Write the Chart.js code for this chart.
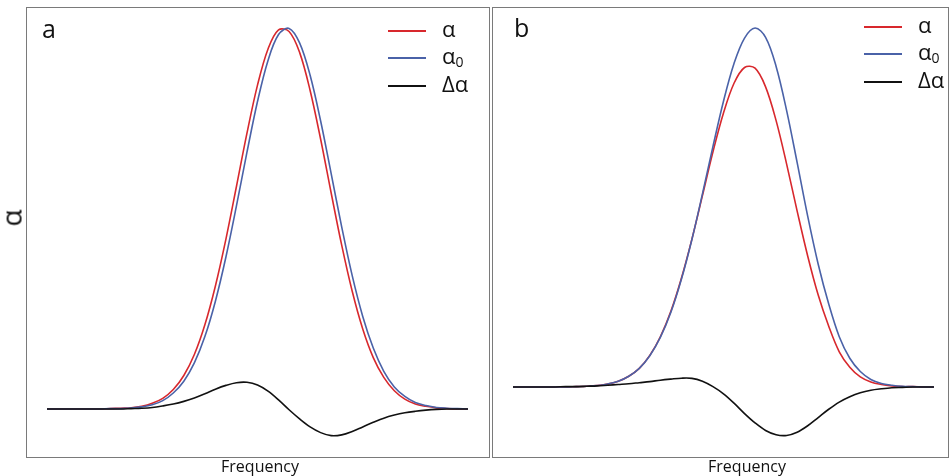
<!DOCTYPE html>
<html>
<head>
<meta charset="utf-8">
<script src="https://cdn.jsdelivr.net/npm/chart.js@4.4.1/dist/chart.umd.min.js"></script>
<style>
  body { margin: 0; width: 949px; height: 476px; background: #fff; position: relative; overflow: hidden;
         font-family: "Open Sans", sans-serif; color: #111; }
  .panel { position: absolute; top: 7px; height: 451px; border: 1px solid #7a7a7a; box-sizing: border-box; }
  #pa { left: 26px; width: 464px; }
  #pb { left: 492px; width: 457px; }
  .panel canvas { position: absolute; left: 0; top: 0; }
  .tag { position: absolute; font-size: 25px; line-height: 1; }
  .xlab { position: absolute; top: 456px; font-size: 16px; line-height: 20px; transform: translateX(-50%); }
  .ylab { position: absolute; left: 2px; top: 204px; font-size: 28px; line-height: 28px; transform: rotate(-90deg); transform-origin: center; }
  .legend { position: absolute; font-size: 22px; }
  .legend .row { position: absolute; left: 0; height: 2px; white-space: nowrap; }
  .legend .sw { position: absolute; left: 0; width: 38px; height: 2px; }
  .legend .tx { position: absolute; top: -16px; line-height: 28px; }
  .legend sub { font-size: 14px; vertical-align: -3px; }
</style>
</head>
<body>
<div class="panel" id="pa"><canvas id="chartA" width="462" height="449"></canvas></div>
<div class="panel" id="pb"><canvas id="chartB" width="455" height="449"></canvas></div>
<div class="tag" style="left:42px;top:16px">a</div>
<div class="tag" style="left:514px;top:15px">b</div>
<div class="ylab">α</div>
<div class="xlab" style="left:260px">Frequency</div>
<div class="xlab" style="left:747px">Frequency</div>
<div class="legend" id="legA" style="left:388px;top:30px"></div>
<div class="legend" id="legB" style="left:864px;top:26px"></div>

<script>
// frequency grid (arbitrary units), shared by both panels
const freq = [0, 2.5, 5, 7.5, 10, 12.5, 15, 17.5, 20, 22.5, 25, 27.5, 30, 32.5, 35, 37.5,
  40, 42.5, 45, 47.5, 50, 52.5, 55, 57.5, 60, 62.5, 65, 67.5, 70, 72.5, 75, 77.5,
  80, 82.5, 85, 87.5, 90, 92.5, 95, 97.5, 100];

const seriesNames = ['α', 'α<sub>0</sub>', 'Δα'];
const seriesColors = ['#d8282d', '#4a62a8', '#111111'];

// panel a: shifted line
const alphaA = [0, 0, 0, 0, 0, 0, 0.001, 0.002, 0.003, 0.007, 0.015, 0.028, 0.051, 0.088, 0.143, 0.221,
  0.323, 0.446, 0.584, 0.724, 0.850, 0.945, 0.995, 0.991, 0.936, 0.836, 0.708, 0.567, 0.430, 0.309, 0.210, 0.135,
  0.083, 0.048, 0.026, 0.013, 0.007, 0.003, 0.001, 0, 0];
const alpha0A = [0, 0, 0, 0, 0, 0, 0.001, 0.001, 0.0025, 0.0055, 0.011, 0.022, 0.042, 0.073, 0.121, 0.190,
  0.283, 0.399, 0.533, 0.674, 0.807, 0.915, 0.983, 0.999, 0.961, 0.876, 0.756, 0.618, 0.478, 0.350, 0.243, 0.160,
  0.099, 0.058, 0.033, 0.017, 0.009, 0.004, 0.002, 0.001, 0];
const deltaA = [0, 0, 0, 0, 0, 0, 0, 0, 0.001, 0.002, 0.004, 0.008, 0.013, 0.020, 0.029, 0.040,
  0.052, 0.062, 0.069, 0.070, 0.063, 0.047, 0.024, -0.002, -0.026, -0.047, -0.062, -0.070, -0.068, -0.059, -0.047, -0.035,
  -0.024, -0.016, -0.010, -0.006, -0.003, -0.001, 0, 0, 0];

// panel b: reduced, asymmetric line
const alphaB = [0, 0, 0, 0, 0, 0, 0.001, 0.002, 0.004, 0.008, 0.016, 0.030, 0.052, 0.088, 0.140, 0.211,
  0.303, 0.412, 0.533, 0.655, 0.763, 0.846, 0.890, 0.888, 0.836, 0.742, 0.621, 0.490, 0.365, 0.256, 0.169, 0.098,
  0.055, 0.028, 0.014, 0.007, 0.003, 0.001, 0.001, 0, 0];
const alpha0B = [0, 0, 0, 0, 0, 0, 0.001, 0.002, 0.004, 0.0085, 0.016, 0.030, 0.052, 0.087, 0.138, 0.208,
  0.300, 0.411, 0.538, 0.670, 0.796, 0.901, 0.972, 1.000, 0.974, 0.893, 0.770, 0.625, 0.476, 0.342, 0.231, 0.140,
  0.080, 0.043, 0.021, 0.010, 0.005, 0.002, 0.001, 0, 0];
const deltaB = [0, 0, 0, 0, 0, 0.001, 0.001, 0.002, 0.003, 0.005, 0.007, 0.009, 0.012, 0.015, 0.019, 0.022,
  0.0245, 0.024, 0.016, 0.001, -0.019, -0.045, -0.074, -0.100, -0.121, -0.133, -0.135, -0.126, -0.108, -0.085, -0.062, -0.042,
  -0.027, -0.016, -0.009, -0.005, -0.002, -0.001, 0, 0, 0];

function pts(vals) {
  return freq.map((f, i) => ({ x: f, y: vals[i] }));
}

function buildPanel(id, series, xr, yr) {
  const datasets = series.map((vals, i) => ({
    label: seriesNames[i],
    data: pts(vals),
    borderColor: seriesColors[i],
    borderWidth: 1.6,
    pointRadius: 0,
    tension: 0.35,
    fill: false
  }));
  // draw black first so coloured lines sit above it, like the original
  datasets.reverse();
  return new Chart(document.getElementById(id), {
    type: 'line',
    data: { datasets },
    options: {
      responsive: false,
      animation: false,
      layout: { padding: 0 },
      plugins: { legend: { display: false }, tooltip: { enabled: false } },
      scales: {
        x: { type: 'linear', display: false, min: xr[0], max: xr[1] },
        y: { type: 'linear', display: false, min: yr[0], max: yr[1] }
      }
    }
  });
}

function buildLegend(id) {
  const el = document.getElementById(id);
  const gaps = [0, 27, 55];
  el.innerHTML = seriesNames.map((n, i) => `
    <div class="row" style="top:${gaps[i]}px">
      <div class="sw" style="background:${seriesColors[i]}"></div>
      <div class="tx" style="left:54px">${n}</div>
    </div>`).join('');
}

buildPanel('chartA', [alphaA, alpha0A, deltaA], [-4.75, 104.99], [-0.126, 1.0525]);
buildPanel('chartB', [alphaB, alpha0B, deltaB], [-4.75, 103.33], [-0.195, 1.0557]);
buildLegend('legA');
buildLegend('legB');
</script>
</body>
</html>
